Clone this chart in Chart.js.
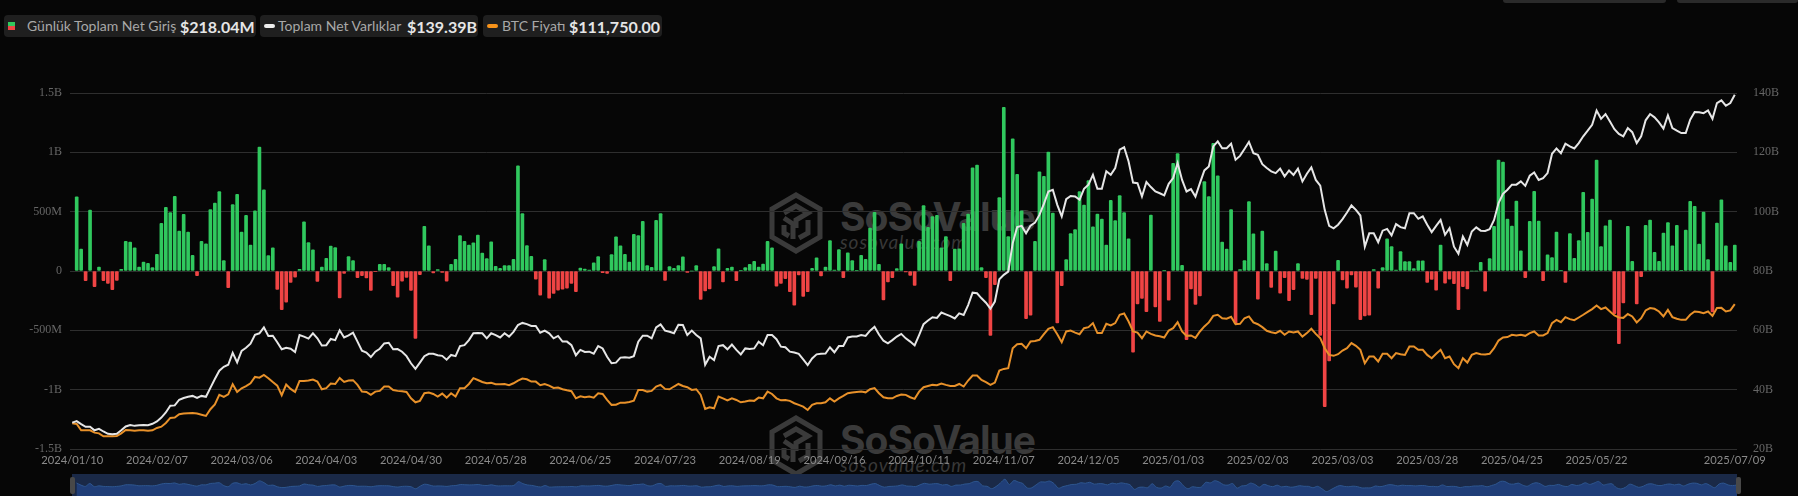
<!DOCTYPE html>
<html>
<head>
<meta charset="utf-8">
<title>Günlük Toplam Net Giriş</title>
<script src="https://cdn.jsdelivr.net/npm/chart.js@4"></script>
<style>
  html, body { margin: 0; padding: 0; background: #060606; width: 1798px; height: 496px; overflow: hidden; }
  #wrap { position: relative; width: 1798px; height: 496px; }
  canvas { position: absolute; }
  .chip { position: absolute; top: 15px; height: 22px; background: #1f1f1f; border-radius: 4px; font-family: Lato, sans-serif; color: #a8a8a8; font-size: 14px; line-height: 22px; white-space: nowrap; }
  .chip span { position: absolute; top: 0; }
  .chip b { position: absolute; top: 1px; color: #e6e6e6; font-size: 16px; font-weight: 700; }
  .chip i { position: absolute; top: 9px; width: 11px; height: 4px; border-radius: 2px; }
  .tab { position: absolute; top: 0; height: 3px; background: #2a2a2a; border-radius: 0 0 3px 3px; }
  .mark { position: absolute; left: 769px; color: #3a3a3a; }
  .mark svg { position: absolute; left: 0; top: 0; }
  .mark .name { position: absolute; left: 71px; top: 1px; font: 700 39px Inter, Lato, sans-serif; letter-spacing: -1px; white-space: nowrap; }
  .mark .site { position: absolute; left: 71px; top: 38px; font: italic 400 19px Lato, sans-serif; letter-spacing: 1px; color: #383838; white-space: nowrap; }
  .handle { position: absolute; top: 477px; width: 5px; height: 17px; background: #484848; border-radius: 2px; }
</style>
</head>
<body>
<div id="wrap">
  <div class="tab" style="left:1503px;width:163px"></div>
  <div class="tab" style="left:1677px;width:121px"></div>

  <div class="mark" style="top:192px">
    <svg width="54" height="62" viewBox="0 0 54 62" fill="none" stroke="#3a3a3a" stroke-width="5"><path d="M27 3 L51 17 V45 L27 59 L3 45 V17 Z"/><path d="M15 21 L27 14 L39 21 L27 28 V36 M39 28 V41 L30 46 M15 26 L24 32 V47 M15 33 V41 L20 44"/></svg>
    <div class="name">SoSoValue</div>
    <div class="site">sosovalue.com</div>
  </div>
  <div class="mark" style="top:415px">
    <svg width="54" height="62" viewBox="0 0 54 62" fill="none" stroke="#3a3a3a" stroke-width="5"><path d="M27 3 L51 17 V45 L27 59 L3 45 V17 Z"/><path d="M15 21 L27 14 L39 21 L27 28 V36 M39 28 V41 L30 46 M15 26 L24 32 V47 M15 33 V41 L20 44"/></svg>
    <div class="name">SoSoValue</div>
    <div class="site">sosovalue.com</div>
  </div>

  <div class="chip" style="left:4px;width:252px">
    <i style="left:4px;top:7px;width:7px;height:4px;background:#30c85e;border-radius:0"></i>
    <i style="left:4px;top:11px;width:7px;height:4px;background:#ef4444;border-radius:0"></i>
    <span style="left:23px">Günlük Toplam Net Giriş</span><b style="left:176px">$218.04M</b>
  </div>
  <div class="chip" style="left:260px;width:218px">
    <i style="left:4px;background:#eeeeee"></i>
    <span style="left:18px">Toplam Net Varlıklar</span><b style="left:147px">$139.39B</b>
  </div>
  <div class="chip" style="left:483px;width:179px">
    <i style="left:4px;background:#f7931a"></i>
    <span style="left:19px">BTC Fiyatı</span><b style="left:86px">$111,750.00</b>
  </div>

  <canvas id="flowChart" style="left:0;top:0"></canvas>

  <div style="position:absolute;left:72px;top:474px;width:1665px;height:22px;background:#1a2947"></div>
  <canvas id="sliderChart" style="left:72px;top:474px"></canvas>
  <div class="handle" style="left:70px"></div>
  <div class="handle" style="left:1736px"></div>
</div>

<script>
// Daily net inflow, millions of USD
const netFlow = [
    null,
    624, 184, -82, 514, -133, 34, -82, -105, -158, -80,
    14, 251, 243, 195, 34, 76, 65, 28, 141, 401,
    537, 492, 630, 336, 477, 328, 133, -40, 249, 229,
    517, 573, 670, 88, -141, 559, 647, 328, 469, 218,
    506, 1045, 684, 130, 195, -155, -325, -263, -96, -51,
    14, 415, 240, 178, -88, 34, 107, 209, 198, -226,
    -20, 121, 88, -56, -40, -59, -164, -6, 56, 56,
    28, -124, -220, -85, -54, -164, -568, -31, 376, 212,
    -17, 11, -11, -85, 56, 99, 299, 251, 218, 237,
    302, 150, 105, 246, 40, 23, 45, 45, 99, 887,
    483, 215, 124, -68, -203, 96, -229, -189, -161, -153,
    -144, -105, -175, 25, 17, 8, 68, 121, -14, -20,
    138, 288, 212, 141, 76, 308, 299, 418, 45, 31,
    427, 483, -79, 37, 23, 45, 119, -11, 0, 45,
    -240, -167, -150, 37, 186, -93, 23, 34, -82, 6,
    28, 56, 82, 34, 59, 249, 195, -127, -105, -65,
    -175, -288, -34, -215, -175, 23, 110, -42, 34, 257,
    8, 181, -56, 153, 88, 3, 133, 99, 362, 494,
    56, -243, -93, -56, 20, 229, -8, -37, -121, 249,
    551, 367, 458, 469, 195, 291, -82, 184, 186, 401,
    480, 870, 893, 28, -56, -542, -116, 619, 1379, 291,
    1113, 814, 508, -401, -373, 249, 836, 797, 1003, 489,
    -438, -124, 96, 316, 350, 670, 556, 763, 373, 480,
    438, 218, 596, 424, 636, 492, 271, -684, -277, -232,
    -342, 472, -302, -424, 3, -246, 907, 989, 48, -579,
    -150, -282, -209, 754, 627, 1076, 802, 243, 184, 517,
    -444, 11, 88, 585, 314, -237, 336, 62, -138, 167,
    -186, -56, -251, -158, 62, -62, -71, -367, -62, -542,
    -1144, -757, -277, 90, -76, -144, -34, -136, -410, -379,
    -373, 11, -144, 28, 271, 206, 8, 164, 79, 79,
    20, 85, 85, -96, -71, -161, 218, -102, -68, -107,
    -325, -133, -150, 0, 0, 73, -170, 105, 376, 935,
    918, 438, 379, 590, 170, -56, 418, 672, 421, -82,
    136, 113, 328, 6, -96, 316, 107, 257, 664, 325,
    607, 935, 206, 381, 429, -359, -613, -268, 376, 82,
    -277, -48, 384, 429, 158, 82, 319, 407, 212, 384,
    6, 345, 588, 545, 226, 497, 96, -345, 404, 599,
    212, 73, 218.04
];

// Total net assets, billions of USD
const netAssets = [
    28.9, 29.4, 28.4, 27.5, 27.5, 26.3, 26.8, 25.9, 25.1, 25.0,
    25.1, 26.3, 27.6, 28.1, 27.8, 28.0, 28.1, 28.0, 28.5, 29.3,
    30.6, 32.3, 34.6, 34.7, 36.6, 37.2, 37.6, 37.9, 37.2, 37.9,
    37.6, 40.6, 43.6, 46.4, 47.7, 48.4, 52.4, 49.2, 53.1, 54.1,
    55.5, 58.5, 59.0, 61.0, 58.1, 58.2, 56.0, 53.6, 54.1, 53.8,
    52.7, 58.4, 57.9, 57.2, 59.0, 57.3, 54.9, 55.0, 57.1, 56.7,
    60.0, 57.6, 58.3, 59.2, 56.2, 53.1, 52.5, 51.0, 52.8, 53.8,
    55.6, 55.8, 53.6, 53.7, 52.8, 51.3, 48.9, 47.0, 49.1, 51.3,
    52.1, 52.1, 51.6, 51.4, 50.1, 51.7, 51.3, 54.7, 55.0, 56.7,
    59.0, 59.1, 59.0, 57.3, 59.0, 58.4, 57.6, 59.0, 57.9, 59.5,
    61.8, 62.5, 62.1, 61.5, 61.5, 59.2, 59.9, 59.0, 57.3, 58.1,
    56.2, 56.2, 55.0, 51.6, 53.4, 52.7, 52.8, 52.1, 54.7, 53.9,
    51.1, 48.9, 49.1, 50.8, 50.9, 50.8, 51.3, 56.2, 58.2, 58.2,
    57.3, 61.0, 62.0, 59.9, 59.5, 59.0, 61.9, 61.8, 58.4, 59.9,
    58.4, 57.3, 48.4, 51.1, 50.0, 54.7, 55.0, 53.6, 55.2, 53.4,
    51.9, 53.9, 53.7, 53.9, 56.2, 55.0, 58.4, 58.4, 57.0, 54.5,
    54.3, 52.8, 52.5, 52.1, 50.2, 48.3, 50.5, 51.9, 52.1, 52.2,
    54.3, 52.6, 54.7, 54.7, 57.6, 57.9, 57.9, 58.4, 58.1, 59.9,
    61.2, 58.6, 56.5, 55.6, 56.7, 57.9, 58.8, 57.3, 56.2, 54.9,
    58.4, 62.1, 63.3, 64.4, 64.2, 66.0, 65.4, 64.8, 64.0, 65.7,
    65.2, 68.5, 72.7, 72.5, 70.8, 69.3, 67.3, 69.7, 77.2, 78.7,
    79.8, 89.4, 94.8, 95.2, 92.7, 95.3, 96.3, 98.9, 102.6, 106.8,
    107.4, 102.3, 98.4, 104.2, 105.3, 105.1, 104.0, 107.7, 109.1, 112.4,
    107.7, 107.7, 113.6, 112.4, 114.7, 120.9, 121.7, 116.9, 109.8, 109.6,
    105.1, 110.0, 108.3, 106.8, 106.2, 105.5, 109.4, 111.3, 116.4, 110.7,
    106.8, 107.6, 105.1, 109.6, 113.9, 115.2, 122.0, 123.7, 121.4, 121.4,
    122.9, 117.5, 118.8, 121.1, 123.5, 119.7, 119.2, 116.0, 114.7, 113.6,
    113.0, 114.5, 111.9, 113.9, 112.4, 114.5, 110.2, 112.8, 114.9, 110.7,
    108.8, 100.6, 95.2, 94.4, 95.6, 97.5, 99.7, 102.1, 100.6, 98.7,
    88.2, 92.7, 92.7, 89.7, 93.6, 94.2, 92.0, 95.8, 94.8, 94.4,
    99.5, 99.5, 97.6, 98.4, 95.6, 93.1, 95.2, 97.2, 92.2, 94.4,
    88.2, 85.8, 91.6, 88.8, 93.3, 94.7, 93.6, 93.5, 94.1, 97.2,
    102.9, 106.0, 107.4, 109.1, 109.1, 110.2, 108.7, 112.1, 113.2, 110.7,
    111.3, 113.0, 119.5, 121.3, 119.7, 122.9, 122.0, 121.3, 123.1, 125.4,
    127.3, 129.3, 134.1, 131.3, 132.9, 130.4, 127.8, 126.2, 125.4, 128.2,
    126.8, 123.1, 125.4, 130.8, 132.9, 131.8, 130.1, 128.0, 132.5, 128.2,
    127.3, 126.5, 126.5, 131.0, 133.6, 133.5, 133.2, 134.1, 131.3, 136.6,
    137.5, 135.7, 136.6, 139.39
];

// BTC price, USD
const btcPrice = [
    46150, 45800, 42300, 42300, 42300, 41000, 40600, 39000, 39000, 39000,
    39200, 40600, 42500, 42300, 42100, 42300, 42300, 42100, 42300, 43600,
    44300, 46300, 49100, 49300, 51100, 51500, 51700, 51800, 51500, 50900,
    50200, 53900, 56600, 61800, 60700, 62100, 67700, 63400, 65400, 66600,
    68200, 71700, 71300, 72800, 71000, 68900, 66900, 61600, 67500, 65100,
    63400, 69500, 69500, 69700, 70200, 69100, 64900, 65500, 68000, 67800,
    71100, 68900, 69700, 69900, 67300, 63600, 63400, 61800, 63600, 64000,
    66400, 66400, 64500, 64000, 63800, 63400, 59900, 57700, 58500, 62700,
    63100, 62300, 60900, 62500, 60300, 62700, 60900, 65500, 65500, 67800,
    71000, 70000, 68900, 68200, 68400, 67700, 67700, 67800, 67100, 68200,
    69700, 70800, 70400, 69100, 69100, 67100, 67800, 66900, 65600, 65800,
    64900, 64300, 63800, 59900, 61000, 60500, 60900, 60300, 62700, 62300,
    59000, 56300, 56400, 57500, 57500, 57900, 58600, 64500, 64500, 63600,
    64000, 66400, 67300, 65100, 64900, 66400, 67800, 66700, 66000, 64500,
    64900, 61800, 54100, 55000, 54400, 60900, 59900, 58700, 59900, 59000,
    57700, 58100, 58700, 58500, 60300, 59900, 63600, 62300, 59900, 58800,
    59000, 58500, 57200, 56300, 55300, 53500, 56300, 57200, 57200, 57700,
    59900, 58100, 59900, 61200, 62700, 63100, 63400, 63600, 63200, 64900,
    65500, 62700, 60500, 59900, 59900, 61200, 62000, 61800, 60500, 59600,
    63600, 66000, 66700, 67300, 67100, 68000, 67300, 66700, 66700, 67800,
    66400, 69700, 72400, 72400, 70000, 68800, 67300, 68600, 75200, 76100,
    76500, 87500, 89700, 89900, 87500, 91200, 91500, 92100, 95200, 98200,
    99100, 95200, 90800, 96700, 97200, 96100, 95200, 98500, 99100, 101300,
    95800, 95800, 100900, 100000, 101300, 105900, 106600, 102200, 96700, 96100,
    93000, 96700, 95400, 94500, 94100, 93400, 97200, 98500, 101800, 96700,
    94300, 94500, 93200, 96700, 99500, 101700, 105300, 105900, 104000, 103700,
    104800, 100700, 100900, 104000, 105000, 101700, 100700, 99100, 97100, 96300,
    95800, 97100, 94900, 96700, 96100, 96700, 93900, 95800, 98200, 95400,
    93000, 87500, 83800, 83300, 84200, 86200, 87500, 90300, 88800, 86600,
    79200, 82900, 82900, 80200, 84400, 84400, 82000, 84800, 84200, 83800,
    88400, 88400, 86600, 86600, 83800, 82000, 84400, 86600, 82000, 82900,
    78700, 76500, 82000, 79600, 83800, 84800, 84200, 84000, 84400, 87500,
    91700, 93400, 93600, 94900, 94500, 94900, 94300, 95800, 96700, 94500,
    94500, 95800, 101300, 103100, 101800, 104600, 103500, 102900, 104400, 105900,
    107500, 109000, 111000, 109000, 109900, 107700, 105500, 104400, 104200, 106300,
    105000, 101700, 104000, 108300, 109600, 109200, 107700, 105000, 108600, 104600,
    103700, 103100, 103100, 105900, 107700, 107400, 106800, 107700, 105300, 109600,
    109700, 107700, 108300, 111750
];

// every 19th trading day gets a label, plus the last day
const tickDates = [
    '2024/01/10', '2024/02/07', '2024/03/06', '2024/04/03', '2024/04/30',
    '2024/05/28', '2024/06/25', '2024/07/23', '2024/08/19', '2024/09/16',
    '2024/10/11', '2024/11/07', '2024/12/05', '2025/01/03', '2025/02/03',
    '2025/03/03', '2025/03/28', '2025/04/25', '2025/05/22'
];
const lastDate = '2025/07/09';
const tickEvery = 19;
const leftTicks = { 1500: '1.5B', 1000: '1B', 500: '500M', 0: '0', '-500': '-500M', '-1000': '-1B', '-1500': '-1.5B' };

const days = netFlow.map((v, i) => i);

function dateLabel(i) {
    if (i === days.length - 1) return lastDate;
    if (i % tickEvery === 0 && i / tickEvery < tickDates.length) return tickDates[i / tickEvery];
    return null;
}

function setCanvas(id, w, h) {
    const c = document.getElementById(id);
    c.style.width = w + 'px';
    c.style.height = h + 'px';
    c.width = w;
    c.height = h;
    return c.getContext('2d');
}

// Main chart
new Chart(setCanvas('flowChart', 1798, 496), {
    data: {
        labels: days,
        datasets: [
            {
                type: 'line', label: 'Toplam Net Varlıklar', data: netAssets, yAxisID: 'yAssets',
                borderColor: '#e6e6e6', borderWidth: 2, pointRadius: 0, tension: 0, order: 0
            },
            {
                type: 'line', label: 'BTC Fiyatı', data: btcPrice, yAxisID: 'yPrice',
                borderColor: '#e8912a', borderWidth: 2, pointRadius: 0, tension: 0, order: 1
            },
            {
                type: 'bar', label: 'Günlük Toplam Net Giriş', data: netFlow, yAxisID: 'yFlow',
                backgroundColor: ctx => ctx.raw >= 0 ? '#30c85e' : '#ef4444',
                barThickness: 3, borderRadius: 1, borderSkipped: false, order: 2
            }
        ]
    },
    options: {
        responsive: false,
        animation: false,
        layout: { padding: { top: 93 } },
        plugins: { legend: { display: false }, tooltip: { enabled: false } },
        scales: {
            x: {
                offset: true,
                afterFit: s => { s.height = 47; },
                grid: { display: false, drawTicks: false },
                border: { display: false },
                ticks: {
                    autoSkip: false, maxRotation: 0, padding: 5, color: '#8a8a8a',
                    font: { family: 'Lato', size: 11.2 },
                    callback: (v, i) => dateLabel(i)
                }
            },
            yFlow: {
                position: 'left', min: -1500, max: 1500,
                afterFit: s => { s.width = 70; },
                grid: { color: '#2e2e2e', drawTicks: false },
                border: { display: false },
                ticks: {
                    stepSize: 500, padding: 8, color: '#666',
                    font: { family: 'Liberation Serif', size: 12 },
                    callback: v => leftTicks[v]
                }
            },
            yAssets: {
                position: 'right', min: 20, max: 140,
                afterFit: s => { s.width = 61; },
                grid: { display: false },
                border: { display: false },
                ticks: {
                    stepSize: 20, padding: 8, color: '#666',
                    font: { family: 'Liberation Serif', size: 12 },
                    callback: v => v + 'B'
                }
            },
            yPrice: { display: false, min: 32000, max: 228000 }
        }
    }
});

// Range slider preview at the bottom, clipped by the window like the original
new Chart(setCanvas('sliderChart', 1665, 22), {
    type: 'line',
    data: {
        labels: days,
        datasets: [{
            data: netFlow,
            borderColor: '#2e568f', borderWidth: 1, pointRadius: 0, tension: 0.3, spanGaps: true,
            fill: 'start', backgroundColor: '#203e78'
        }]
    },
    options: {
        responsive: false,
        animation: false,
        layout: { padding: 0 },
        plugins: { legend: { display: false }, tooltip: { enabled: false } },
        scales: {
            x: { display: false },
            y: { display: false, min: -2040, max: 2450 }
        }
    }
});
</script>
</body>
</html>
